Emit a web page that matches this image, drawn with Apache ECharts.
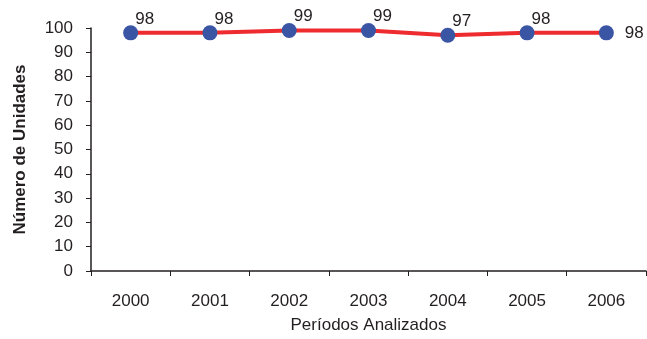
<!DOCTYPE html>
<html>
<head>
<meta charset="utf-8">
<script src="https://cdn.jsdelivr.net/npm/echarts@6/dist/echarts.min.js"></script>
<style>
  html, body { margin: 0; padding: 0; background: #fff; }
  #chart { width: 647px; height: 339px; }
</style>
</head>
<body>
<div id="chart"></div>
<script>
// datos del gráfico
var periodos = ['2000', '2001', '2002', '2003', '2004', '2005', '2006'];
var unidades = [98, 98, 99, 99, 97, 98, 98];
var yTicks = [0, 10, 20, 30, 40, 50, 60, 70, 80, 90, 100];

var textColor = '#231f20';
var fontFam = '"Liberation Sans", Arial, sans-serif';

var myChart = echarts.init(document.getElementById('chart'));

// la última etiqueta va a la derecha del punto
var puntos = unidades.map(function (v, i) {
    var ultimo = i === unidades.length - 1;
    return {
        value: v,
        label: ultimo
            ? { position: 'right', distance: 11 }
            : { position: 'top', offset: [14, 7] }
    };
});

myChart.setOption({
    animation: false,
    grid: { left: 91, right: 1, top: 28, bottom: 67 },
    xAxis: {
        type: 'category',
        data: periodos,
        boundaryGap: true,
        name: 'Períodos Analizados',
        nameLocation: 'middle',
        nameGap: 46,
        nameTextStyle: { color: textColor, fontSize: 17, fontFamily: fontFam },
        axisLine: { lineStyle: { color: textColor, width: 1.5 } },
        axisTick: { show: true, length: 5, lineStyle: { color: textColor } },
        axisLabel: { color: textColor, fontSize: 17, fontFamily: fontFam, margin: 22 }
    },
    yAxis: {
        type: 'value',
        min: yTicks[0],
        max: yTicks[yTicks.length - 1],
        interval: 10,
        name: 'Número de Unidades',
        nameLocation: 'middle',
        nameGap: 62,
        nameTextStyle: { color: textColor, fontSize: 17, fontWeight: 'bold', fontFamily: fontFam },
        splitLine: { show: false },
        axisLine: { show: true, lineStyle: { color: textColor, width: 1.5 } },
        axisTick: { show: true, length: 5, lineStyle: { color: textColor } },
        axisLabel: { color: textColor, fontSize: 17, fontFamily: fontFam, margin: 18 }
    },
    series: [
        {
            name: 'Unidades',
            type: 'line',
            data: puntos,
            symbol: 'circle',
            symbolSize: 15,
            lineStyle: { color: '#ee2b2e', width: 4 },
            itemStyle: { color: '#3a55a4' },
            label: {
                show: true,
                color: textColor,
                fontSize: 17,
                fontFamily: fontFam
            }
        }
    ]
});
</script>
</body>
</html>
